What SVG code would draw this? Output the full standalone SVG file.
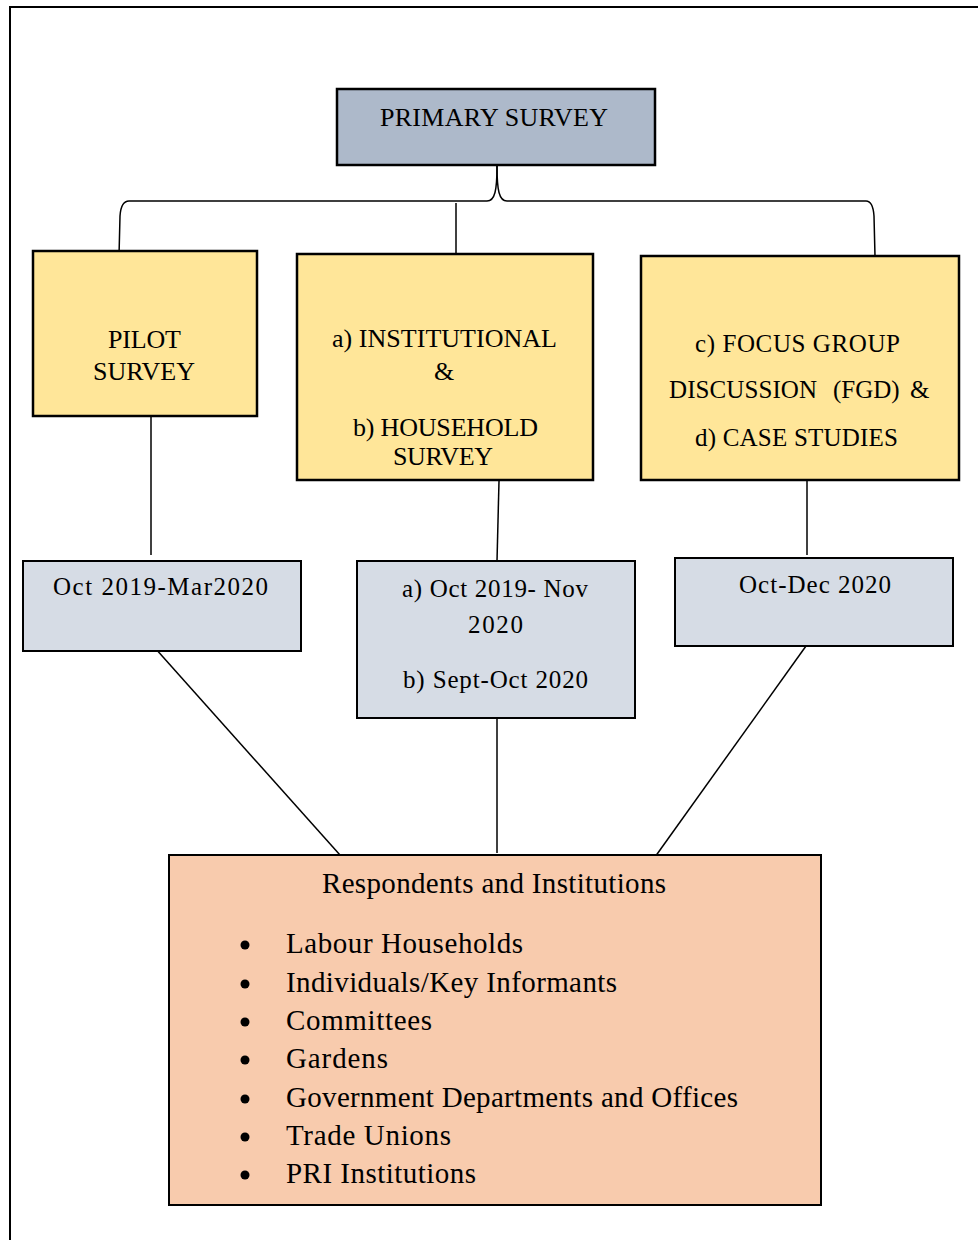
<svg xmlns="http://www.w3.org/2000/svg" width="978" height="1240" viewBox="0 0 978 1240">
<style>
text{font-family:"Liberation Serif","Times New Roman",serif;fill:#000;}
.box{stroke:#000;stroke-width:2.5;}
.date{stroke:#000;stroke-width:2;fill:#d6dce5;}
.yel{fill:#ffe699;}
.t26{font-size:26px;}
.t25{font-size:25px;}
.t29{font-size:29px;}
.conn{fill:none;stroke:#000;stroke-width:1.5;}
</style>
<rect x="10" y="7" width="1000" height="1300" fill="#fff" stroke="#000" stroke-width="2"/>
<g id="connectors">
<path class="conn" d="M497 166 C497 190 495 201 487 201 L129 201 Q121 201 120 216 L119 256"/>
<path class="conn" d="M497 166 C497 190 499 201 507 201 L866 201 Q873 201 874 216 L875 256"/>
<line class="conn" x1="456" y1="203" x2="456" y2="254"/>
<line class="conn" x1="151" y1="417" x2="151" y2="555"/>
<line class="conn" x1="499" y1="481" x2="497" y2="561"/>
<line class="conn" x1="807" y1="481" x2="807" y2="555"/>
<line class="conn" x1="155" y1="648" x2="340" y2="855"/>
<line class="conn" x1="497" y1="702" x2="497" y2="853"/>
<line class="conn" x1="806" y1="646" x2="655" y2="857"/>
</g>
<g id="primary">
<rect class="box" x="337" y="89" width="318" height="76" fill="#adb9ca"/>
<text class="t26" x="380" y="126" textLength="228" lengthAdjust="spacing">PRIMARY SURVEY</text>
</g>
<g id="pilot">
<rect class="box yel" x="33" y="251" width="224" height="165"/>
<text class="t26" x="108" y="348" textLength="73" lengthAdjust="spacing">PILOT</text>
<text class="t26" x="93" y="380" textLength="102" lengthAdjust="spacing">SURVEY</text>
</g>
<g id="institutional">
<rect class="box yel" x="297" y="254" width="296" height="226"/>
<text class="t26" x="332" y="347" textLength="225" lengthAdjust="spacing">a) INSTITUTIONAL</text>
<text class="t26" x="434" y="380">&amp;</text>
<text class="t26" x="353" y="436" textLength="185" lengthAdjust="spacing">b) HOUSEHOLD</text>
<text class="t26" x="393" y="465" textLength="100" lengthAdjust="spacing">SURVEY</text>
</g>
<g id="fgd">
<rect class="box yel" x="641" y="256" width="318" height="224"/>
<text class="t25" x="695" y="352" textLength="205" lengthAdjust="spacing">c) FOCUS GROUP</text>
<text class="t25" y="398"><tspan x="669" textLength="148" lengthAdjust="spacing">DISCUSSION</tspan><tspan x="833">(FGD)</tspan><tspan x="910">&amp;</tspan></text>
<text class="t25" x="695" y="446" textLength="203" lengthAdjust="spacing">d) CASE STUDIES</text>
</g>
<g id="date-pilot">
<rect class="date" x="23" y="561" width="278" height="90"/>
<text class="t25" x="53" y="595" textLength="215" lengthAdjust="spacing">Oct 2019-Mar2020</text>
</g>
<g id="date-inst">
<rect class="date" x="357" y="561" width="278" height="157"/>
<text class="t25" x="402" y="597" textLength="186" lengthAdjust="spacing">a) Oct 2019- Nov</text>
<text class="t25" x="468" y="633" textLength="55" lengthAdjust="spacing">2020</text>
<text class="t25" x="403" y="688" textLength="185" lengthAdjust="spacing">b) Sept-Oct 2020</text>
</g>
<g id="date-fgd">
<rect class="date" x="675" y="558" width="278" height="88"/>
<text class="t25" x="739" y="593" textLength="152" lengthAdjust="spacing">Oct-Dec 2020</text>
</g>
<g id="respondents">
<rect x="169" y="855" width="652" height="350" fill="#f8cbad" stroke="#000" stroke-width="2"/>
<text class="t29" x="322" y="893" textLength="344" lengthAdjust="spacing">Respondents and Institutions</text>
<g fill="#000">
<circle cx="245" cy="945" r="4.5"/>
<circle cx="245" cy="984" r="4.5"/>
<circle cx="245" cy="1022" r="4.5"/>
<circle cx="245" cy="1060" r="4.5"/>
<circle cx="245" cy="1099" r="4.5"/>
<circle cx="245" cy="1137" r="4.5"/>
<circle cx="245" cy="1175" r="4.5"/>
</g>
<text class="t29" x="286" y="953" textLength="237" lengthAdjust="spacing">Labour Households</text>
<text class="t29" x="286" y="992" textLength="331" lengthAdjust="spacing">Individuals/Key Informants</text>
<text class="t29" x="286" y="1030" textLength="146" lengthAdjust="spacing">Committees</text>
<text class="t29" x="286" y="1068" textLength="102" lengthAdjust="spacing">Gardens</text>
<text class="t29" x="286" y="1107" textLength="452" lengthAdjust="spacing">Government Departments and Offices</text>
<text class="t29" x="286" y="1145" textLength="165" lengthAdjust="spacing">Trade Unions</text>
<text class="t29" x="286" y="1183" textLength="190" lengthAdjust="spacing">PRI Institutions</text>
</g>
</svg>
